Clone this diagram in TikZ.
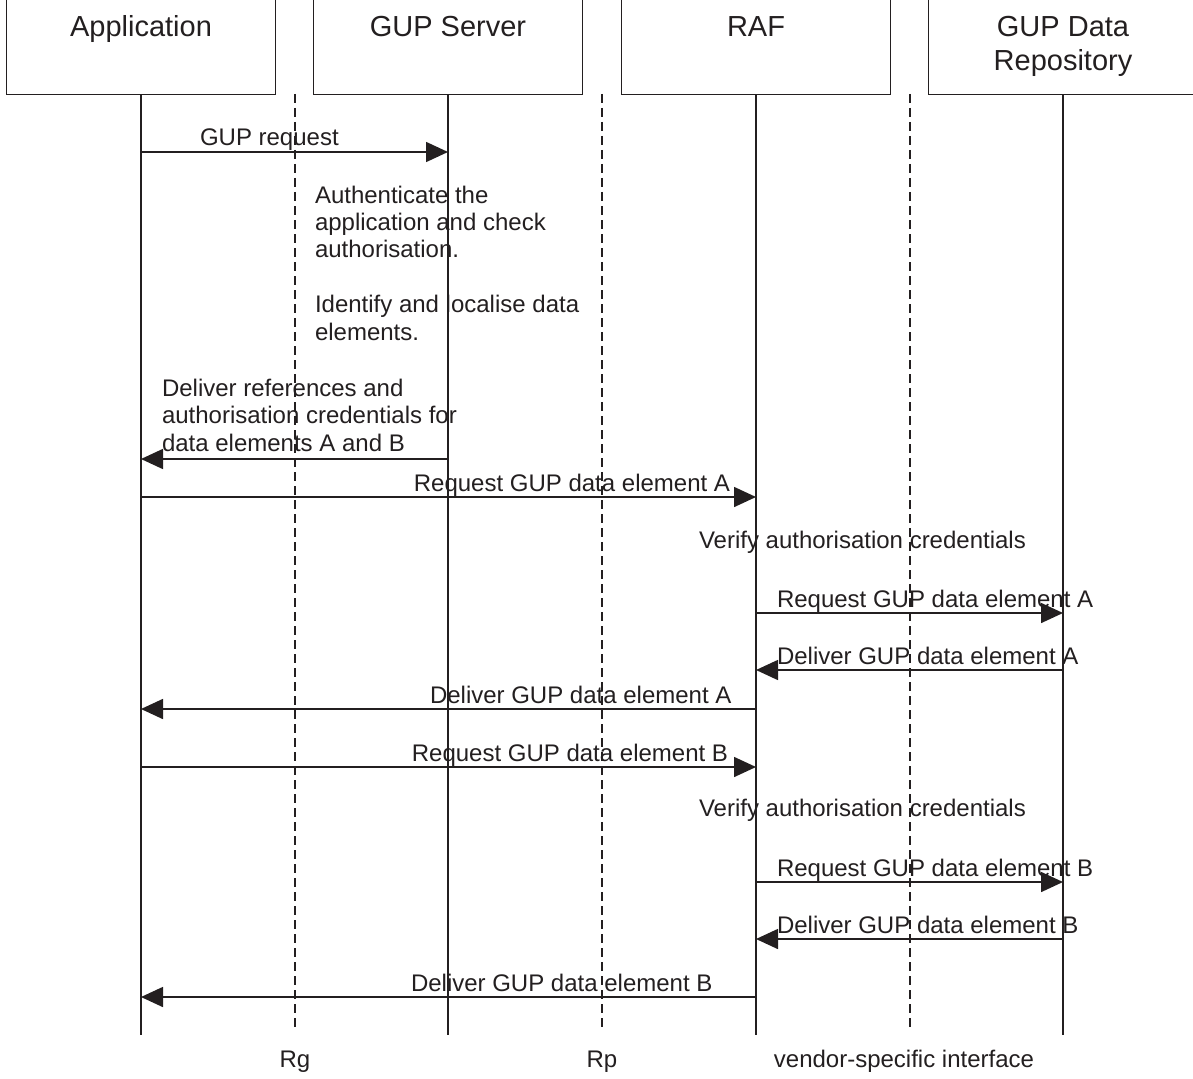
\documentclass[tikz,border=0pt]{standalone}
\usepackage{fontspec}
\setmainfont{Liberation Sans}
\usetikzlibrary{arrows.meta}
\definecolor{ink}{HTML}{231F20}

\begin{document}
\begin{tikzpicture}[x=1pt,y=-1pt,
  every node/.style={inner sep=0pt, outer sep=0pt, text=ink},
  entity/.style={draw=ink, line width=1.6pt, minimum width=269pt, minimum height=100pt},
  headtxt/.style={font=\fontsize{29}{34.5}\selectfont, align=center},
  msgtxt/.style={font=\fontsize{24}{27.4}\selectfont, align=left},
  lifeline/.style={draw=ink, line width=1.6pt},
  iface/.style={draw=ink, line width=1.6pt, dash pattern=on 9pt off 5pt},
  msg/.style={draw=ink, line width=1.6pt, -{Triangle[length=22pt,width=20pt]}},
]
\useasboundingbox (0,0) rectangle (1193,1078);

% entities
\node[entity] (app)  at (141,44.5)  {};
\node[entity] (srv)  at (448,44.5)  {};
\node[entity] (raf)  at (756,44.5)  {};
\node[entity] (repo) at (1063,44.5) {};
\node[headtxt, anchor=base] (appT)  at (141,36.7)  {Application};
\node[headtxt, anchor=base] (srvT)  at (448,36.7)  {GUP Server};
\node[headtxt, anchor=base] (rafT)  at (756,36.7)  {RAF};
% multi-line nodes: the base anchor sits on the last line
\node[headtxt, anchor=base] (repoT) at (1063,70.7) {GUP Data\\Repository};

% lifelines
\coordinate (appEnd)  at (141,1035);
\coordinate (srvEnd)  at (448,1035);
\coordinate (rafEnd)  at (756,1035);
\coordinate (repoEnd) at (1063,1035);
\draw[lifeline] (app.south)  -- (appEnd);
\draw[lifeline] (srv.south)  -- (srvEnd);
\draw[lifeline] (raf.south)  -- (rafEnd);
\draw[lifeline] (repo.south) -- (repoEnd);

% reference points
\coordinate (rgTop) at (295,94);   \coordinate (rgBot) at (295,1030);
\coordinate (rpTop) at (602,94);   \coordinate (rpBot) at (602,1030);
\coordinate (vsTop) at (910,94);   \coordinate (vsBot) at (910,1030);
\draw[iface] (rgTop) -- (rgBot);
\draw[iface] (rpTop) -- (rpBot);
\draw[iface] (vsTop) -- (vsBot);
\node[msgtxt, anchor=base] (rg) at (295,1067) {Rg};
\node[msgtxt, anchor=base] (rp) at (602,1067) {Rp};
\node[msgtxt, anchor=base] (vs) at (904,1067) {vendor-specific interface};

% message rows
\coordinate (y1)  at (0,152);
\coordinate (y2)  at (0,459);
\coordinate (y3)  at (0,497);
\coordinate (y4)  at (0,613);
\coordinate (y5)  at (0,670);
\coordinate (y6)  at (0,709);
\coordinate (y7)  at (0,767);
\coordinate (y8)  at (0,882);
\coordinate (y9)  at (0,939);
\coordinate (y10) at (0,997);

\draw[msg] (app.south |- y1)  -- (srv.south |- y1);
\draw[msg] (srv.south |- y2)  -- (app.south |- y2);
\draw[msg] (app.south |- y3)  -- (raf.south |- y3);
\draw[msg] (raf.south |- y4)  -- (repo.south |- y4);
\draw[msg] (repo.south |- y5) -- (raf.south |- y5);
\draw[msg] (raf.south |- y6)  -- (app.south |- y6);
\draw[msg] (app.south |- y7)  -- (raf.south |- y7);
\draw[msg] (raf.south |- y8)  -- (repo.south |- y8);
\draw[msg] (repo.south |- y9) -- (raf.south |- y9);
\draw[msg] (raf.south |- y10) -- (app.south |- y10);

% labels
\node[msgtxt, anchor=base west] (t1) at (200,146) {GUP request};
\node[msgtxt, anchor=base west] (auth) at (315,340)
  {Authenticate the\\application and check\\authorisation.\\[27.4pt]Identify and localise data\\elements.};
\node[msgtxt, anchor=base west] (t2) at (162,451)
  {Deliver references and\\authorisation credentials for\\data elements A and B};
\node[msgtxt, anchor=base east] (t3) at (730,491) {Request GUP data element A};
\node[msgtxt, anchor=base west] (va) at (699,548) {Verify authorisation credentials};
\node[msgtxt, anchor=base west] (t4) at (777,607) {Request GUP data element A};
\node[msgtxt, anchor=base west] (t5) at (777,664) {Deliver GUP data element A};
\node[msgtxt, anchor=base west] (t6) at (430,703) {Deliver GUP data element A};
\node[msgtxt, anchor=base east] (t7) at (728,761) {Request GUP data element B};
\node[msgtxt, anchor=base west] (vb) at (699,816) {Verify authorisation credentials};
\node[msgtxt, anchor=base west] (t8) at (777,876) {Request GUP data element B};
\node[msgtxt, anchor=base west] (t9) at (777,933) {Deliver GUP data element B};
\node[msgtxt, anchor=base west] (t10) at (411,991) {Deliver GUP data element B};
\end{tikzpicture}
\end{document}
